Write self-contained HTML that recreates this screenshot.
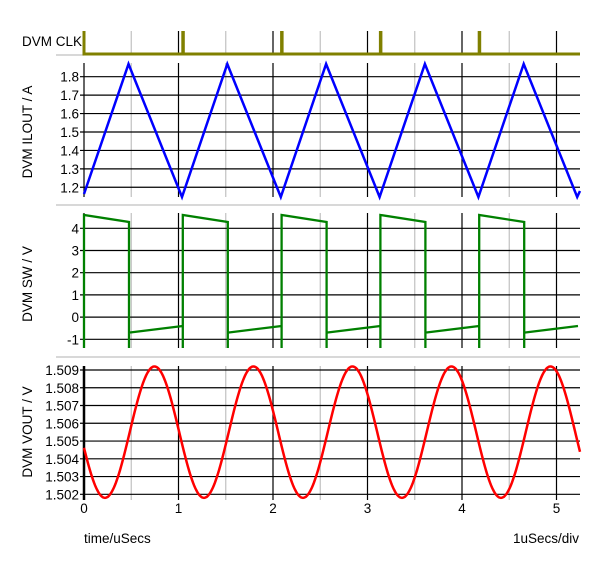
<!DOCTYPE html>
<html><head><meta charset="utf-8"><style>
body{margin:0;background:#fff}
svg text{font-family:"Liberation Sans",sans-serif;font-size:13.5px;fill:#000}
</style></head><body>
<svg id="s" width="600" height="563" xmlns="http://www.w3.org/2000/svg"></svg>
<script>
var s=document.getElementById('s'),h='';
var X0=84,XR=580,PX=94.5;
function ln(x1,y1,x2,y2,c,w){h+='<line x1="'+x1+'" y1="'+y1+'" x2="'+x2+'" y2="'+y2+'" stroke="'+c+'" stroke-width="'+(w||1)+'"/>';}
function tx(x,y,t,a){h+='<text x="'+x+'" y="'+y+'" text-anchor="'+(a||'end')+'">'+t+'</text>';}
function vt(x,y,t){h+='<text transform="translate('+x+','+y+') rotate(-90)" text-anchor="middle">'+t+'</text>';}
function vgrid(y1,y2){for(var i=0;i<11;i++){var x=X0+i*PX/2;if(x>XR)break;ln(x,y1,x,y2,i%2?'#c0c0c0':'#000',1.2);}}
ln(56,55,84,55,'#c0c0c0',1.2);
ln(56,205,580,205,'#c0c0c0',1.2);ln(56,357,580,357,'#c0c0c0',1.2);
vgrid(31,54);
tx(82,46,'DVM CLK');
vgrid(63,197);
var il=[1.8,1.7,1.6,1.5,1.4,1.3,1.2];
il.forEach(function(v){var y=76.7+(1.8-v)*184.3;ln(80,y,XR,y,'#000',1.2);tx(79,y+5,v.toFixed(1));});
vt(32,132,'DVM ILOUT / A');
vgrid(213,348);
for(var v=4;v>=-1;v--){var y=228.3+(4-v)*22.2;ln(80,y,XR,y,'#000',1.2);tx(79,y+5,v);}
vt(32,284,'DVM SW / V');
vgrid(366,500);
for(var i=0;i<8;i++){var v=1.509-i*0.001,y=370+i*17.76;ln(80,y,XR,y,'#000',1.2);tx(79,y+5,v.toFixed(3));}
ln(84,366,84,500,'#000',2.5);
for(var i=0;i<=5;i++){tx(X0+i*PX,513,i,'middle');}
vt(32,432,'DVM VOUT / V');
tx(84,543,'time/uSecs','start');tx(579,543,'1uSecs/div');
var P=98.8;
h+='<path d="M84,31 L84,54 L580,54" fill="none" stroke="#808000" stroke-width="3"/>';
for(var k=1;k<5;k++){var x=84+k*P;h+='<rect x="'+(x-1.5)+'" y="31" width="3.5" height="23" fill="#808000"/>';}
var pts=[[84,194]];
for(var k=0;k<5;k++){var s0=83.2+k*P;pts.push([s0+45.3,64]);pts.push([s0+P,197]);}
pts.push([580,191]);
h+='<polyline points="'+pts.map(function(a){return a.join(',')}).join(' ')+'" fill="none" stroke="#0000ff" stroke-width="2.5"/>';
var d='';
for(var k=0;k<5;k++){var s0=84+k*P,e=Math.min(s0+P,580);
d+='M'+s0+',348 L'+s0+',215 L'+(s0+45)+',222 L'+(s0+45)+',348 M'+(s0+45)+',332.6 L'+e+','+(332.6-6.6*(e-s0-45)/53.8)+' ';}
h+='<path d="'+d+'" fill="none" stroke="#008000" stroke-width="2.3"/>';
var vp=[];
for(var x=84;x<=580;x+=1){var v=1.5055-0.0037*Math.sin(2*Math.PI*(x-84)/99+0.24);vp.push(x+','+(370+(1.509-v)*17760).toFixed(1));}
h+='<polyline points="'+vp.join(' ')+'" fill="none" stroke="#ff0000" stroke-width="2.5"/>';
s.innerHTML=h;
</script>
</body></html>
